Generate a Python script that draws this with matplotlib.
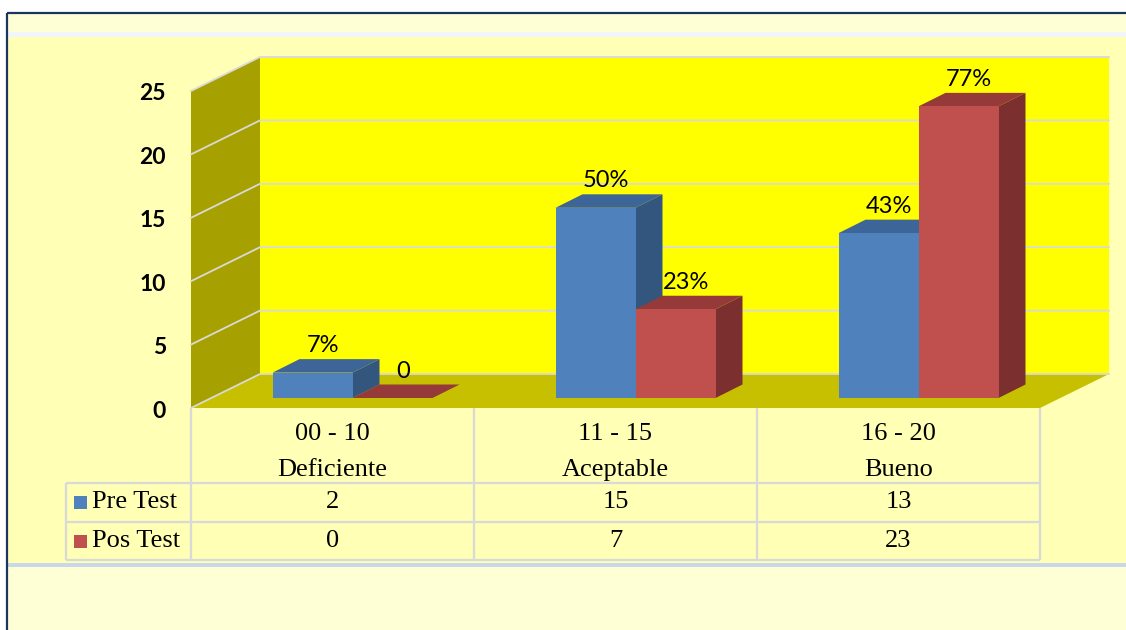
import matplotlib
matplotlib.use("Agg")
from matplotlib import pyplot as plt  # noqa
from matplotlib.patches import Polygon, Rectangle

categories = ['00 - 10', '11 - 15', '16 - 20']
levels = ['Deficiente', 'Aceptable', 'Bueno']
series_names = ['Pre Test', 'Pos Test']
pre_test = [2, 15, 13]
pos_test = [0, 7, 23]
pre_labels = ['7%', '50%', '43%']
pos_labels = ['0', '23%', '77%']
y_ticks = [0, 5, 10, 15, 20, 25]

W, H = 1126, 630
front_col = ['#4F81BD', '#C0504D']
top_col = ['#3E6597', '#953A39']
side_col = ['#33567F', '#7B2F2F']
grid_col = '#D9D9D9'


def px_box(x0, y0, x1, y1):
    return [x0 / W, 1 - y1 / H, (x1 - x0) / W, (y1 - y0) / H]


fig = plt.figure(figsize=(W / 100, H / 100), dpi=100)
fig.patch.set_facecolor('white')

# background bands and frame
bg = fig.add_axes([0, 0, 1, 1], zorder=0)
bg.set_xlim(0, W)
bg.set_ylim(H, 0)
bg.axis('off')
bg.add_patch(Rectangle((7, 13), W, H, color='#FFFFD6', lw=0))
bg.add_patch(Rectangle((8, 32), W, 5, color='#F2F5F9', lw=0))
bg.add_patch(Rectangle((8, 37), W, 526, color='#FFFFB5', lw=0))
bg.add_patch(Rectangle((8, 563), W, 4, color='#C9D7EA', lw=0))
bg.plot([7, W], [13, 13], color='#1B3560', lw=1.6, solid_capstyle='butt')
bg.plot([7, 7], [13, H], color='#1B3560', lw=1.6, solid_capstyle='butt')

# chart axes: front plane of the pseudo 3D plot
ax = fig.add_axes(px_box(191, 91, 1040, 408), zorder=1)
ax.set_xlim(-0.5, 2.5)
ax.set_ylim(0, 25)
ax.axis('off')
ux = 3 / 849.0
uy = 25 / 317.0
ddx, ddy = 69 * ux, 34 * uy          # floor depth
bx, by = 20 * ux, 10 * uy            # bar front offset
bdx, bdy = 27 * ux, 13.5 * uy        # bar depth
ymax = y_ticks[-1]

ax.add_patch(Polygon([(-0.5 + ddx, ddy), (2.5 + ddx, ddy), (2.5 + ddx, ymax + ddy),
                      (-0.5 + ddx, ymax + ddy)], closed=True, color='#FFFF00', lw=0,
                     clip_on=False, zorder=0))
ax.add_patch(Polygon([(-0.5, 0), (-0.5 + ddx, ddy), (-0.5 + ddx, ymax + ddy), (-0.5, ymax)],
                     closed=True, color='#A6A100', lw=0, clip_on=False, zorder=0))
ax.add_patch(Polygon([(-0.5, 0), (2.5, 0), (2.5 + ddx, ddy), (-0.5 + ddx, ddy)],
                     closed=True, color='#C6C000', lw=0, clip_on=False, zorder=0.5))
for t in y_ticks:
    ax.plot([-0.5, -0.5 + ddx, 2.5 + ddx], [t, t + ddy, t + ddy], color=grid_col,
            lw=1.3, clip_on=False, zorder=0.6)
    ax.text(-0.5 - 25 * ux, t - 3 * uy, str(t), ha='right', va='center',
            fontsize=16.5, fontweight='bold', family='Lato', color='black')

w = 80 / 283.0
for s, (vals, labs) in enumerate([(pre_test, pre_labels), (pos_test, pos_labels)]):
    x_left = [i - w + s * w + bx for i in range(len(categories))]
    z = 3 + 2 * s
    ax.bar(x_left, vals, width=w, bottom=by, align='edge', color=front_col[s],
           lw=0, clip_on=False, zorder=z + 1)
    for x0, v, lab in zip(x_left, vals, labs):
        x1 = x0 + w
        ax.add_patch(Polygon([(x0, v + by), (x1, v + by), (x1 + bdx, v + by + bdy),
                              (x0 + bdx, v + by + bdy)], closed=True, color=top_col[s],
                             lw=0, clip_on=False, zorder=z))
        ax.add_patch(Polygon([(x1, by), (x1 + bdx, by + bdy), (x1 + bdx, v + by + bdy),
                              (x1, v + by)], closed=True, color=side_col[s],
                             lw=0, clip_on=False, zorder=z))
        ax.text(x0 + w / 2 + bdx / 2 - 3 * ux, v + by + bdy + 7 * uy, lab, ha='center',
                va='baseline', fontsize=17, family='Lato', color='black', zorder=10)

# data table
tab = fig.add_axes(px_box(66, 408, 1040, 560), zorder=1)
xl = -0.5 - 125 * ux
tab.set_xlim(xl, 2.5)
tab.set_ylim(152, 0)
tab.axis('off')
rows = [0, 75, 114, 152]
lkw = dict(color=grid_col, lw=1.6, clip_on=False, solid_capstyle='butt')
for i in range(len(categories) + 1):
    tab.plot([i - 0.5, i - 0.5], [0, rows[-1]], **lkw)
tab.plot([xl, xl], [rows[1], rows[-1]], **lkw)
for r in rows[1:]:
    tab.plot([xl, 2.5], [r, r], **lkw)

serif = 'Liberation Serif'
for i, (c, lv) in enumerate(zip(categories, levels)):
    tab.text(i, 26, c, ha='center', va='center', fontsize=19, family=serif)
    tab.text(i, 62, lv, ha='center', va='center', fontsize=19, family=serif)
for s, vals in enumerate([pre_test, pos_test]):
    yc = (rows[s + 1] + rows[s + 2]) / 2
    tab.add_patch(Rectangle((xl + 8 * ux, yc - 6.5), 13 * ux, 13, color=front_col[s], lw=0))
    tab.text(xl + 26 * ux, yc, series_names[s], ha='left', va='center', fontsize=19,
             family=serif)
    for i, v in enumerate(vals):
        tab.text(i, yc, str(v), ha='center', va='center', fontsize=19, family=serif)

fig.savefig('out.png', dpi=100, facecolor=fig.get_facecolor())
